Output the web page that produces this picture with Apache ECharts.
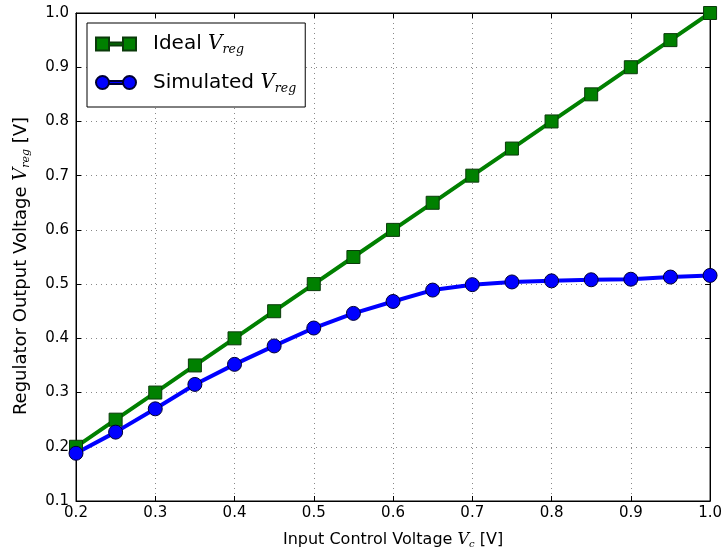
<!DOCTYPE html>
<html><head><meta charset="utf-8">
<script src="https://cdn.jsdelivr.net/npm/echarts@6/dist/echarts.min.js"></script>
<style>html,body{margin:0;padding:0;background:#fff}#c{width:725px;height:554px}</style>
</head><body><div id="c"></div>
<script>
const vc = [0.2,0.25,0.3,0.35,0.4,0.45,0.5,0.55,0.6,0.65,0.7,0.75,0.8,0.85,0.9,0.95,1.0];
const idealVreg = [0.2,0.25,0.3,0.35,0.4,0.45,0.5,0.55,0.6,0.65,0.7,0.75,0.8,0.85,0.9,0.95,1.0];
const simulatedVreg = [0.188,0.227,0.270,0.315,0.352,0.386,0.419,0.446,0.468,0.489,0.499,0.504,0.506,0.508,0.509,0.513,0.516];
const seriesNames = ['Ideal', 'Simulated'];

const chart = echarts.init(document.getElementById('c'));
const font = 'DejaVu Sans';
const richX = {
  va: {fontFamily:'DejaVu Serif', fontStyle:'italic', fontSize:16, color:'#000'},
  sa: {fontFamily:'DejaVu Serif', fontStyle:'italic', fontSize:10, color:'#000', padding:[9,0,0,0]},
  t: {fontFamily:font, fontSize:16, color:'#000'}
};
const richY = {
  va: {fontFamily:'DejaVu Serif', fontStyle:'italic', fontSize:18, color:'#000'},
  sa: {fontFamily:'DejaVu Serif', fontStyle:'italic', fontSize:11, color:'#000', padding:[10,0,0,0]},
  t: {fontFamily:font, fontSize:18, color:'#000'}
};
const pair = (xs, ys) => xs.map((x,i)=>[x, ys[i]]);
const gridAxisX = {
  type:'value', min:0.2, max:1.0, interval:0.1,
  axisLine:{show:true, lineStyle:{color:'#000', width:1}},
  axisTick:{show:true, inside:true, length:5, lineStyle:{color:'#000'}},
};
chart.setOption({
  animation:false,
  backgroundColor:'#fff',
  grid:{left:76, right:13, top:13, bottom:50, show:true, borderColor:'#000', borderWidth:1},
  legend:{
    orient:'vertical', left:87, top:23, padding:[11,9,12,8], itemGap:16,
    borderColor:'#000', borderWidth:1, backgroundColor:'#fff',
    itemWidth:40, itemHeight:13,
    data:[
      {name:seriesNames[0], icon:'path://M0,0h13v13h-13z M13,5h14v3h-14z M27,0h13v13h-13z'},
      {name:seriesNames[1], icon:'path://M0,6.5a6.5,6.5 0 1,0 13,0a6.5,6.5 0 1,0 -13,0z M13,5h14v3h-14z M27,6.5a6.5,6.5 0 1,0 13,0a6.5,6.5 0 1,0 -13,0z'}
    ],
    formatter: n => '{t|' + n + ' }{v|V}{s|reg}',
    textStyle:{fontFamily:font, fontSize:20, color:'#000', rich:{
      t:{fontFamily:font, fontSize:20, color:'#000', padding:[0,0,0,12]},
      v:{fontFamily:'DejaVu Serif', fontStyle:'italic', fontSize:20, color:'#000'},
      s:{fontFamily:'DejaVu Serif', fontStyle:'italic', fontSize:12.5, color:'#000', padding:[12,0,0,0]}
    }}
  },
  xAxis:[Object.assign({}, gridAxisX, {
    position:'bottom',
    axisLabel:{fontFamily:font, fontSize:15, color:'#000', margin:5, formatter:v=>v.toFixed(1)},
    splitLine:{show:true, lineStyle:{color:'#888', type:[1,4], width:1}},
    name:'{t|Input Control Voltage }{va|V}{sa|c}{t| [V]}', nameLocation:'middle', nameGap:29,
    nameTextStyle:{fontFamily:font, fontSize:16, color:'#000', rich:richX}
  }), Object.assign({}, gridAxisX, {
    position:'top', axisLabel:{show:false}, splitLine:{show:false}
  })],
  yAxis:[{
    type:'value', min:0.1, max:1.0, interval:0.1, position:'left',
    axisLine:{show:true, lineStyle:{color:'#000'}},
    axisTick:{show:true, inside:true, length:5, lineStyle:{color:'#000'}},
    axisLabel:{fontFamily:font, fontSize:15, color:'#000', margin:7, formatter:v=>v.toFixed(1)},
    splitLine:{show:true, lineStyle:{color:'#888', type:[1,4], width:1}},
    name:'{t|Regulator Output Voltage }{va|V}{sa|reg}{t| [V]}', nameLocation:'middle', nameGap:44, nameRotate:90,
    nameTextStyle:{fontFamily:font, fontSize:18, color:'#000', rich:richY, padding:[0,18,0,0]}
  },{
    type:'value', min:0.1, max:1.0, interval:0.1, position:'right',
    axisLine:{show:true, lineStyle:{color:'#000'}},
    axisTick:{show:true, inside:true, length:5, lineStyle:{color:'#000'}},
    axisLabel:{show:false}, splitLine:{show:false}
  }],
  series:[{
    name:seriesNames[0], type:'line', data:pair(vc, idealVreg),
    symbol:'rect', symbolSize:13,
    lineStyle:{color:'#008000', width:4},
    itemStyle:{color:'#008000', borderColor:'#0a3a0a', borderWidth:1}
  },{
    name:seriesNames[1], type:'line', data:pair(vc, simulatedVreg),
    symbol:'circle', symbolSize:14,
    lineStyle:{color:'#0000ff', width:4},
    itemStyle:{color:'#0000ff', borderColor:'#000033', borderWidth:1}
  }]
});
</script></body></html>
